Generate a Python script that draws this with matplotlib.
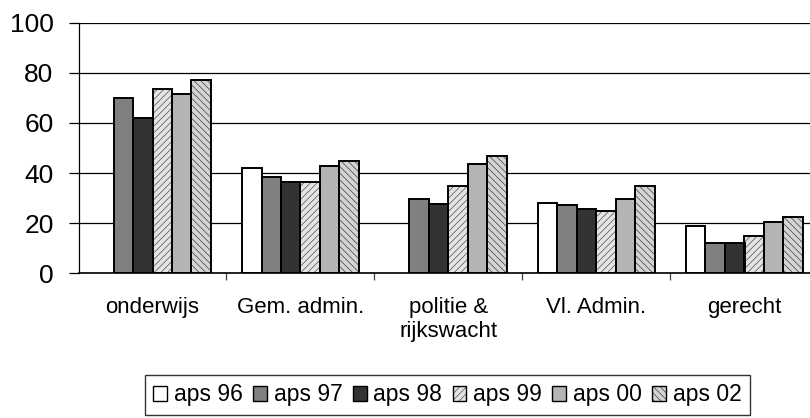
import matplotlib.pyplot as plt
import numpy as np
from matplotlib.patches import Patch

plt.rcParams['font.family'] = ['Liberation Sans', 'DejaVu Sans']
plt.rcParams['hatch.linewidth'] = 0.55

categories = ['onderwijs', 'Gem. admin.', 'politie &\nrijkswacht', 'Vl. Admin.', 'gerecht']
series = ['aps 96', 'aps 97', 'aps 98', 'aps 99', 'aps 00', 'aps 02']
aps96 = [np.nan, 42, np.nan, 28, 19]
aps97 = [70, 38.5, 29.5, 27.3, 12]
aps98 = [62, 36.5, 27.5, 25.5, 12]
aps99 = [73.5, 36.5, 35, 24.7, 14.8]
aps00 = [71.5, 42.8, 43.5, 29.5, 20.5]
aps02 = [77, 45, 47, 35, 22.5]
values = [aps96, aps97, aps98, aps99, aps00, aps02]

# face colour, hatch colour, hatch
styles = [
    ('white', 'white', None),
    ('#808080', '#808080', None),
    ('#333333', '#333333', None),
    ('#e4e4e4', '#5a5a5a', '/////'),
    ('#b4b4b4', '#b4b4b4', None),
    ('#d4d4d4', '#4a4a4a', '\\\\\\\\\\'),
]

fig = plt.figure(figsize=(8.1, 4.18), dpi=100)
ax = fig.add_axes([78.5 / 810, 144.7 / 418, 740 / 810, 250.6 / 418])

x = np.arange(len(categories)) + 0.5
w = 19.5 / 148
handles = []
for k, (vals, (fc, hc, hatch)) in enumerate(zip(values, styles)):
    pos = x + (k - 2.5) * w
    ax.bar(pos, vals, w, color=fc, edgecolor=hc, hatch=hatch, linewidth=0, zorder=2)
    ax.bar(pos, vals, w, fill=False, edgecolor='black', linewidth=1.4, zorder=3)
    handles.append((Patch(facecolor=fc, edgecolor=hc, hatch=hatch, linewidth=0),
                    Patch(fill=False, edgecolor='black', linewidth=1.0)))

ax.set_xlim(0, 5)
ax.set_ylim(0, 100)
ax.set_yticks([0, 20, 40, 60, 80, 100])
ax.yaxis.grid(True, color='black', linewidth=0.9)
ax.set_axisbelow(True)
ax.tick_params(axis='y', labelsize=19, length=7, width=0.9, pad=11, color='black')

ax.set_xticks(x)
ax.set_xticklabels(categories, fontsize=16)
ax.tick_params(axis='x', length=0, pad=17)
ax.set_xticks([1, 2, 3, 4], minor=True)
ax.tick_params(axis='x', which='minor', length=5, width=0.9, color='#444444')

for s in ['top', 'right']:
    ax.spines[s].set_visible(False)
ax.spines['left'].set_linewidth(0.9)
ax.spines['bottom'].set_linewidth(1.2)

leg = fig.legend(handles, series, loc='center', bbox_to_anchor=(447.5 / 810, 23 / 418),
                 ncol=6, fontsize=16.5, frameon=True, fancybox=False,
                 handlelength=0.6, handleheight=0.6, handletextpad=0.3,
                 columnspacing=0.45, borderpad=0.35, borderaxespad=0)
leg.get_frame().set_edgecolor('black')
leg.get_frame().set_linewidth(1.0)

fig.savefig('out.png', dpi=100)
